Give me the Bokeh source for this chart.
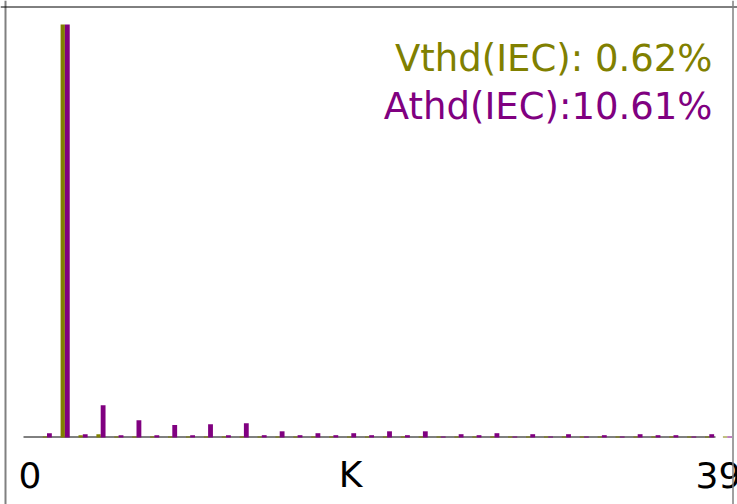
from bokeh.plotting import figure
from bokeh.models import Range1d, Span
from bokeh.core.properties import value
from bokeh.embed import file_html
from bokeh.resources import INLINE

# ---- data ----
harmonics = list(range(40))
vthd_pct = [0.24, 100, 0.56, 0.8, 0.24, 0.24, 0.24, 0.24, 0.24, 0.24,
            0.24, 0.24, 0.24, 0.24, 0.24, 0.24, 0.24, 0.24, 0.24, 0.24,
            0.24, 0.24, 0.24, 0.24, 0.24, 0.24, 0.24, 0.24, 0.24, 0.24,
            0.24, 0.24, 0.24, 0.24, 0.24, 0.24, 0.24, 0.24, 0.24, 0.24]
athd_pct = [1.04, 100, 0.8, 7.8, 0.56, 4.2, 0.56, 3.0, 0.56, 3.2,
            0.56, 3.46, 0.56, 1.5, 0.56, 1.04, 0.56, 1.04, 0.56, 1.5,
            0.56, 1.5, 0.24, 0.8, 0.56, 1.04, 0.24, 0.8, 0.24, 0.8,
            0.24, 0.56, 0.24, 0.8, 0.56, 0.56, 0.24, 0.8, 0.24, 0.24]
tick_labels = ["0", "K", "39"]
summary = ["Vthd(IEC): 0.62%", "Athd(IEC):10.61%"]

OLIVE = "#808000"
PURPLE = "#800080"

# ---- geometry (picture pixels) ----
W, H = 737, 504
ORIGIN_X = 46.5              # x of harmonic 0 (between its two bars)
STEP = 17.9                  # px per harmonic
BASE_Y = 437                 # y of value 0
SCALE = 4.13                 # px per percent


def px(x):
    return (x - ORIGIN_X) / STEP


def py(y):
    return (BASE_Y - y) / SCALE


p = figure(width=W, height=H, output_backend="svg", toolbar_location=None,
           x_range=Range1d(px(0), px(W)),
           y_range=Range1d(py(H), py(0)),
           x_axis_location=None, y_axis_location=None,
           min_border=0)
p.grid.visible = False
p.outline_line_color = None
p.background_fill_color = "white"
p.border_fill_color = "white"

# baseline
p.segment(x0=[px(23)], y0=[py(436.5)], x1=[px(715)], y1=[py(436.5)],
          line_color="black", line_width=1)

# bars
p.vbar(x=[k - 0.12 for k in harmonics], width=0.24, top=vthd_pct, bottom=0,
       fill_color=OLIVE, line_color=None)
p.vbar(x=[k + 0.135 for k in harmonics], width=0.27, top=athd_pct, bottom=0,
       fill_color=PURPLE, line_color=None)

# bottom labels
font = value("DejaVu Sans")
p.text(x=[px(29.5)], y=[py(474)], text=[tick_labels[0]], text_align="center",
       text_baseline="alphabetic", text_font=font, text_font_size="36px",
       text_color="black")
p.text(x=[px(350)], y=[py(474)], text=[tick_labels[1]], text_align="center",
       text_baseline="alphabetic", text_font=font, text_font_size="36px",
       text_color="black")
p.text(x=[px(695)], y=[py(474)], text=[tick_labels[2]], text_align="left",
       text_baseline="alphabetic", text_font=font, text_font_size="36px",
       text_color="black")

# summary texts
p.text(x=[px(712), px(712)], y=[py(58), py(106)], text=summary,
       text_color=[OLIVE, PURPLE], text_align="right",
       text_baseline="alphabetic", text_font=font, text_font_size="37px")

# frame borders
p.add_layout(Span(location=px(5), dimension="height", line_color="#808080", line_width=2))
p.add_layout(Span(location=py(6.5), dimension="width", line_color="black", line_width=1))
p.add_layout(Span(location=px(732.5), dimension="height", line_color="#808080", line_width=1.5))

open("out.html", "w").write(file_html(p, INLINE))
